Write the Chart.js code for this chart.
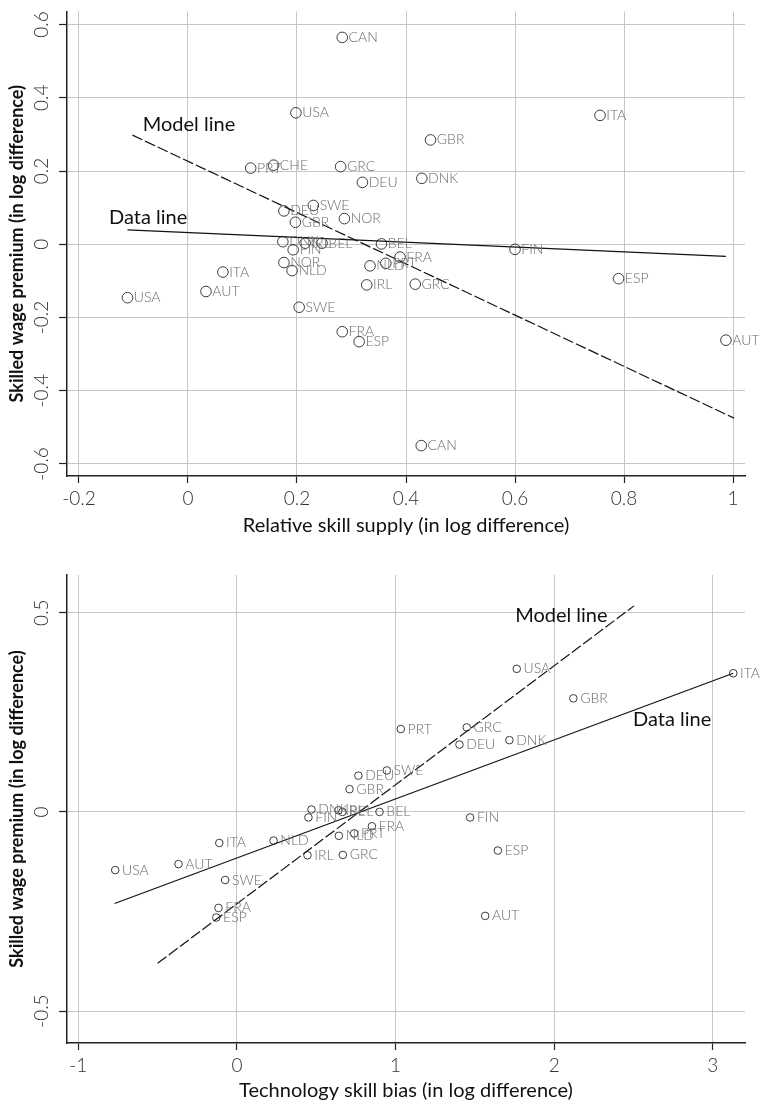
<!DOCTYPE html>
<html>
<head>
<meta charset="utf-8">
<script src="https://cdn.jsdelivr.net/npm/chart.js@4.4.1/dist/chart.umd.min.js"></script>
<style>
  html, body { margin: 0; padding: 0; background: #fff; }
  canvas { display: block; }
</style>
</head>
<body>
<canvas id="supplyChart" width="760" height="548"></canvas>
<canvas id="biasChart" width="760" height="558"></canvas>
<script>
// 상단: 상대 숙련 공급 vs 숙련 임금 프리미엄
const supplyNames = ['CAN', 'USA', 'ITA', 'GBR', 'GRC', 'CHE', 'PRT', 'DNK', 'DEU', 'SWE', 'DEU', 'NOR', 'GBR', 'DNK', 'IRL', 'BEL', 'BEL', 'FIN', 'FIN', 'FRA', 'NOR', 'PRT', 'NLD', 'NLD', 'ITA', 'ESP', 'GRC', 'IRL', 'AUT', 'USA', 'SWE', 'FRA', 'AUT', 'ESP', 'CAN'];
const supplyX = [0.283, 0.198, 0.756, 0.445, 0.280, 0.157, 0.115, 0.429, 0.320, 0.230, 0.176, 0.287, 0.197, 0.174, 0.215, 0.246, 0.355, 0.193, 0.600, 0.389, 0.176, 0.363, 0.334, 0.191, 0.064, 0.790, 0.417, 0.328, 0.033, -0.111, 0.204, 0.283, 0.987, 0.314, 0.428];
const supplyY = [0.565, 0.359, 0.352, 0.285, 0.212, 0.216, 0.208, 0.180, 0.169, 0.106, 0.091, 0.070, 0.060, 0.007, 0.003, 0.003, 0.001, -0.015, -0.014, -0.035, -0.050, -0.052, -0.059, -0.072, -0.076, -0.094, -0.109, -0.111, -0.129, -0.146, -0.172, -0.239, -0.262, -0.266, -0.550];
const supplyModelX = [-0.102, 1.002];
const supplyModelY = [0.298, -0.475];
const supplyFitX = [-0.111, 0.987];
const supplyFitY = [0.039, -0.033];
const supplyTicksX = [-0.2, 0, 0.2, 0.4, 0.6, 0.8, 1];
const supplyTicksY = [-0.6, -0.4, -0.2, 0, 0.2, 0.4, 0.6];

// 하단: 기술 숙련 편향 vs 숙련 임금 프리미엄
const biasNames = ['USA', 'ITA', 'GBR', 'GRC', 'PRT', 'DNK', 'DEU', 'SWE', 'DEU', 'GBR', 'DNK', 'IRL', 'BEL', 'BEL', 'FIN', 'FIN', 'FRA', 'PRT', 'NLD', 'NLD', 'ITA', 'ESP', 'GRC', 'IRL', 'AUT', 'USA', 'SWE', 'FRA', 'AUT', 'ESP'];
const biasX = [1.764, 3.129, 2.121, 1.449, 1.033, 1.718, 1.403, 0.945, 0.766, 0.710, 0.470, 0.640, 0.665, 0.899, 0.451, 1.470, 0.851, 0.739, 0.643, 0.231, -0.111, 1.645, 0.668, 0.445, -0.368, -0.767, -0.074, -0.116, 1.565, -0.130];
const biasY = [0.359, 0.348, 0.285, 0.212, 0.208, 0.180, 0.169, 0.104, 0.091, 0.057, 0.006, 0.004, 0.000, 0.000, -0.014, -0.014, -0.036, -0.054, -0.060, -0.072, -0.078, -0.097, -0.108, -0.109, -0.131, -0.146, -0.171, -0.241, -0.261, -0.265];
const biasModelX = [-0.500, 2.503];
const biasModelY = [-0.380, 0.517];
const biasFitX = [-0.771, 3.129];
const biasFitY = [-0.230, 0.348];
const biasTicksX = [-1, 0, 1, 2, 3];
const biasTicksY = [-0.5, 0, 0.5];

const FONT = 'Lato, "Open Sans", sans-serif';

const toPoints = (xs, ys) => xs.map((x, i) => ({ x: x, y: ys[i] }));

// 점 옆 국가 라벨과 "Model line"/"Data line" 주석
const pointLabels = {
  id: 'pointLabels',
  afterDatasetsDraw(chart, args, opts) {
    const ctx = chart.ctx;
    ctx.save();
    chart.data.datasets.forEach((ds, i) => {
      if (!ds.names) return;
      ctx.font = opts.font;
      ctx.fillStyle = '#6a6a6a';
      ctx.textAlign = 'left';
      ctx.textBaseline = 'middle';
      chart.getDatasetMeta(i).data.forEach((pt, j) => {
        ctx.fillText(ds.names[j], pt.x + ds.pointRadius + opts.gap, pt.y);
      });
    });
    ctx.font = '20px ' + FONT;
    ctx.fillStyle = '#111';
    opts.notes.forEach(n => {
      ctx.fillText(n.text, chart.scales.x.getPixelForValue(n.x), chart.scales.y.getPixelForValue(n.y));
    });
    ctx.restore();
  }
};

function makeChart(id, cfg) {
  return new Chart(document.getElementById(id), {
    type: 'scatter',
    data: {
      datasets: [
        {
          data: toPoints(cfg.modelX, cfg.modelY),
          showLine: true,
          pointRadius: 0,
          borderColor: '#111',
          borderWidth: 1.2,
          borderDash: [11, 3]
        },
        {
          data: toPoints(cfg.fitX, cfg.fitY),
          showLine: true,
          pointRadius: 0,
          borderColor: '#111',
          borderWidth: 1.2
        },
        {
          data: toPoints(cfg.x, cfg.y),
          names: cfg.names,
          pointRadius: cfg.radius,
          pointHoverRadius: cfg.radius,
          backgroundColor: 'rgba(0,0,0,0)',
          borderColor: '#3a3a3a',
          borderWidth: 1
        }
      ]
    },
    options: {
      responsive: false,
      animation: false,
      events: [],
      layout: { padding: { top: cfg.padTop, right: 15, left: 0, bottom: 0 } },
      plugins: {
        legend: { display: false },
        tooltip: { enabled: false },
        pointLabels: { font: '300 14px ' + FONT, gap: cfg.gap, notes: cfg.notes }
      },
      scales: {
        x: {
          type: 'linear',
          min: cfg.xMin,
          max: cfg.xMax,
          afterBuildTicks: s => { s.ticks = cfg.ticksX.map(v => ({ value: v })); },
          afterFit: s => { s.height = cfg.xHeight; },
          grid: { color: '#c6c6c6', lineWidth: 1, tickColor: '#222', tickLength: 7, tickWidth: 1.2 },
          border: { color: '#222', width: 1.5 },
          ticks: {
            autoSkip: false,
            maxRotation: 0,
            padding: 4,
            color: '#333',
            font: { family: FONT, size: 19, weight: '300' },
            callback: v => String(v)
          },
          title: {
            display: true,
            text: cfg.xTitle,
            color: '#111',
            font: { family: FONT, size: 20 },
            padding: { top: 0, bottom: cfg.titlePad }
          }
        },
        y: {
          type: 'linear',
          min: cfg.yMin,
          max: cfg.yMax,
          afterBuildTicks: s => { s.ticks = cfg.ticksY.map(v => ({ value: v })); },
          afterFit: s => { s.width = 67; },
          grid: { color: '#c6c6c6', lineWidth: 1, tickColor: '#222', tickLength: 8, tickWidth: 1.2 },
          border: { color: '#222', width: 1.5 },
          ticks: {
            autoSkip: false,
            minRotation: 90,
            maxRotation: 90,
            crossAlign: 'center',
            padding: 0,
            color: '#333',
            font: { family: FONT, size: 19, weight: '300' },
            callback: v => String(v)
          },
          title: {
            display: true,
            text: 'Skilled wage premium (in log difference)',
            color: '#111',
            font: { family: FONT, size: 18, weight: 'bold' },
            padding: { top: 6, bottom: 0 }
          }
        }
      }
    },
    plugins: [pointLabels]
  });
}

makeChart('supplyChart', {
  names: supplyNames, x: supplyX, y: supplyY,
  modelX: supplyModelX, modelY: supplyModelY, fitX: supplyFitX, fitY: supplyFitY,
  ticksX: supplyTicksX, ticksY: supplyTicksY,
  xMin: -0.222, xMax: 1.022, yMin: -0.633, yMax: 0.636,
  radius: 5.3, gap: 1, padTop: 7, xHeight: 72, titlePad: 10,
  xTitle: 'Relative skill supply (in log difference)',
  notes: [{ text: 'Model line', x: -0.083, y: 0.326 }, { text: 'Data line', x: -0.145, y: 0.074 }]
});

makeChart('biasChart', {
  names: biasNames, x: biasX, y: biasY,
  modelX: biasModelX, modelY: biasModelY, fitX: biasFitX, fitY: biasFitY,
  ticksX: biasTicksX, ticksY: biasTicksY,
  xMin: -1.071, xMax: 3.203, yMin: -0.580, yMax: 0.5945,
  radius: 3.8, gap: 3, padTop: 27, xHeight: 63, titlePad: 3,
  xTitle: 'Technology skill bias (in log difference)',
  notes: [{ text: 'Model line', x: 1.754, y: 0.492 }, { text: 'Data line', x: 2.497, y: 0.231 }]
});
</script>
</body>
</html>
